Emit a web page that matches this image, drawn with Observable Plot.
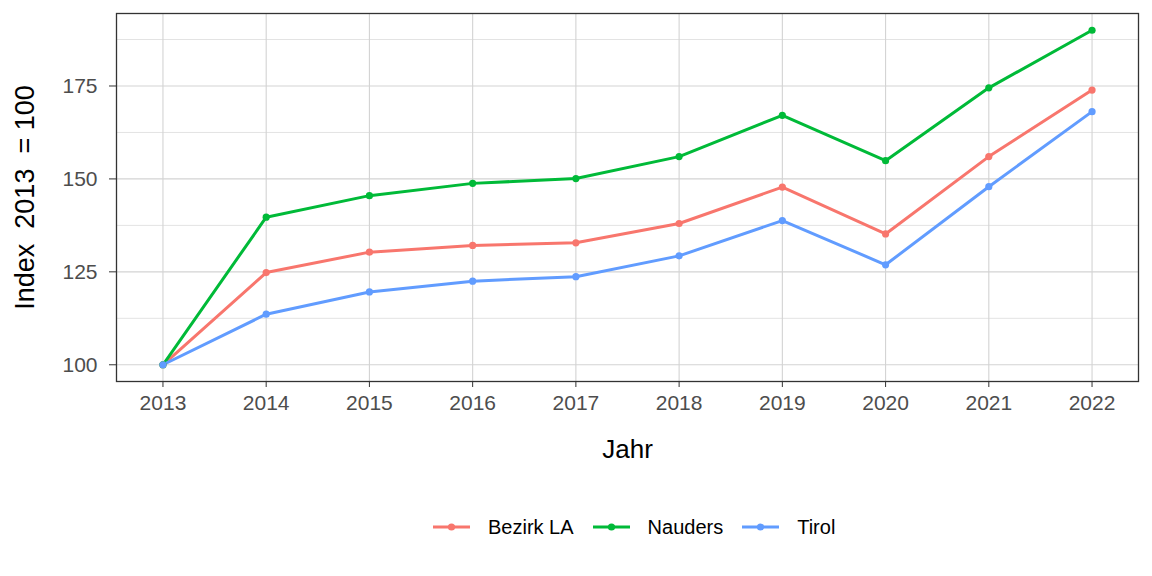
<!DOCTYPE html>
<html>
<head>
<meta charset="utf-8">
<script src="https://cdn.jsdelivr.net/npm/d3@7"></script>
<script src="https://cdn.jsdelivr.net/npm/@observablehq/plot@0.6"></script>
<style>
  body { margin: 0; background: #fff; font-family: "Liberation Sans", Arial, sans-serif; }
  #chart svg text { white-space: pre; }
  #wrap { position: relative; width: 1152px; height: 576px; }
  #legend { position: absolute; left: 433px; top: 513px; height: 28px; display: flex; align-items: center; font-size: 20px; color: #000; }
  .item { display: flex; align-items: center; margin-right: 19px; }
  .item svg { margin-right: 18px; }
</style>
</head>
<body>
<div id="wrap">
  <div id="chart"></div>
  <div id="legend"></div>
</div>
<script>
const years = [2013, 2014, 2015, 2016, 2017, 2018, 2019, 2020, 2021, 2022];
const seriesNames = ["Bezirk LA", "Nauders", "Tirol"];
const bezirkLA = [100, 124.8, 130.3, 132.1, 132.8, 138.0, 147.8, 135.2, 156.0, 173.9];
const nauders  = [100, 139.7, 145.5, 148.8, 150.1, 156.0, 167.1, 154.9, 174.5, 190.0];
const tirol    = [100, 113.6, 119.6, 122.5, 123.7, 129.3, 138.8, 126.9, 147.9, 168.1];
const colors = ["#F8766D", "#00BA38", "#619CFF"];
const yTicks = [100, 125, 150, 175];
const yMinor = [112.5, 137.5, 162.5, 187.5];

const valuesBySeries = [bezirkLA, nauders, tirol];
const data = [];
seriesNames.forEach((s, i) => years.forEach((y, j) => data.push({series: s, year: y, value: valuesBySeries[i][j]})));

const H = 500;
const chart = Plot.plot({
  width: 1152,
  height: H,
  marginLeft: 116,
  marginRight: 14,
  marginTop: 13,
  marginBottom: H - 381,
  style: {fontFamily: "Liberation Sans, Arial, sans-serif", fontSize: "21px", background: "#fff"},
  x: {domain: [2012.55, 2022.45], axis: null},
  y: {domain: [95.5, 194.5], axis: null},
  color: {domain: seriesNames, range: colors},
  marks: [
    Plot.ruleY(yMinor, {stroke: "#e3e3e3", strokeWidth: 1}),
    Plot.gridY(yTicks, {stroke: "#d3d3d3", strokeOpacity: 1, strokeWidth: 1.1}),
    Plot.gridX(years, {stroke: "#d3d3d3", strokeOpacity: 1, strokeWidth: 1.1}),
    Plot.line(data, {x: "year", y: "value", z: "series", stroke: "series", strokeWidth: 3}),
    Plot.dot(data, {x: "year", y: "value", fill: "series", r: 3.6, stroke: null}),
    Plot.frame({stroke: "#333", strokeWidth: 1.3}),
    Plot.axisX(years, {tickSize: 6, tickPadding: 8, stroke: "#333", fill: "#4d4d4d", tickFormat: d => String(d), fontSize: 21, label: null}),
    Plot.axisY(yTicks, {tickSize: 7, tickPadding: 12, stroke: "#333", fill: "#4d4d4d", fontSize: 21, label: null}),
    Plot.text(["Index  2013  = 100"], {frameAnchor: "left", textAnchor: "middle", rotate: -90, dx: -91, fontSize: 27, fill: "#000", text: d => d}),
    Plot.text(["Jahr"], {frameAnchor: "bottom", dy: 76, fontSize: 26, fill: "#000", text: d => d})
  ]
});
document.getElementById("chart").appendChild(chart);

const legend = document.getElementById("legend");
seriesNames.forEach((s, i) => {
  const item = document.createElement("div");
  item.className = "item";
  item.innerHTML = `<svg width="37" height="12"><line x1="0" y1="6" x2="37" y2="6" stroke="${colors[i]}" stroke-width="3"/><circle cx="18.5" cy="6" r="3.6" fill="${colors[i]}"/></svg><span>${s}</span>`;
  legend.appendChild(item);
});
</script>
</body>
</html>
